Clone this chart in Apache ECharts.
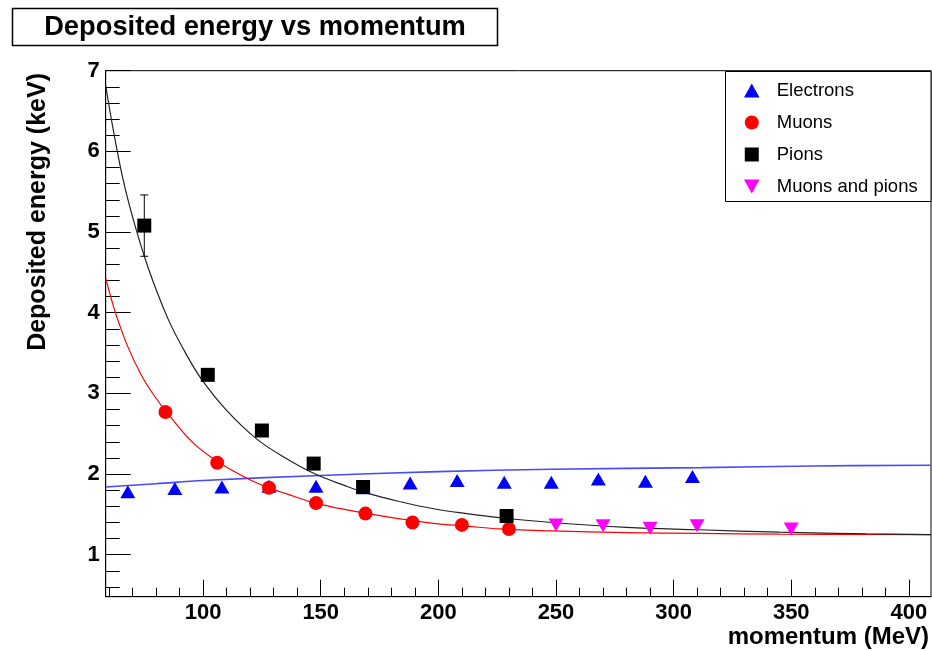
<!DOCTYPE html>
<html><head><meta charset="utf-8">
<script src="https://cdn.jsdelivr.net/npm/echarts@6/dist/echarts.min.js"></script>
<style>html,body{margin:0;padding:0;background:#fff}#c{width:932px;height:651px}</style>
</head><body><div id="c"></div>
<script>
// ---- data ----
const electronP = [68, 88, 108, 128, 148, 168, 188, 208, 228, 248, 268, 288, 308];
const electronE = [1.78, 1.82, 1.84, 1.85, 1.85, 1.83, 1.89, 1.92, 1.90, 1.90, 1.94, 1.91, 1.97];
const muonP = [84, 106, 128, 148, 169, 189, 210, 230];
const muonE = [2.77, 2.14, 1.83, 1.64, 1.51, 1.40, 1.37, 1.32];
const pionP = [75, 102, 125, 147, 168, 229];
const pionE = [5.08, 3.23, 2.54, 2.13, 1.84, 1.48];
const pionErr = [0.38, 0, 0, 0, 0, 0];
const mixP = [250, 270, 290, 310, 350];
const mixE = [1.37, 1.36, 1.33, 1.36, 1.32];

// fitted curves, points
const fitPionP = [58.6, 60.4, 63, 66, 70, 76.5, 85, 92, 99, 110, 123, 135, 147, 160, 170, 185, 198, 212, 226, 248, 280, 311, 345, 382, 409.4];
const fitPionE = [6.82, 6.50, 6.08, 5.65, 5.19, 4.57, 3.93, 3.53, 3.19, 2.79, 2.43, 2.20, 2.01, 1.86, 1.76, 1.65, 1.57, 1.51, 1.46, 1.40, 1.34, 1.31, 1.28, 1.26, 1.25];
const fitMuonP = [58.6, 61, 63.3, 68, 73.5, 79, 85, 96, 107, 120.5, 129, 135, 149, 170, 185, 198, 212, 226, 248, 280, 311, 345, 409.4];
const fitMuonE = [4.43, 4.17, 3.95, 3.58, 3.24, 2.98, 2.75, 2.38, 2.14, 1.92, 1.82, 1.76, 1.63, 1.51, 1.44, 1.39, 1.355, 1.32, 1.295, 1.275, 1.265, 1.255, 1.25];
const fitElecP = [58.6, 80, 100, 147, 200, 248, 312, 360, 409.4];
const fitElecE = [1.84, 1.88, 1.92, 1.98, 2.03, 2.06, 2.08, 2.10, 2.11];

const xTicks = [100, 150, 200, 250, 300, 350, 400];
const xMinor = [60, 70, 80, 90, 110, 120, 130, 140, 160, 170, 180, 190, 210, 220, 230, 240,
                260, 270, 280, 290, 310, 320, 330, 340, 360, 370, 380, 390];
const yTicks = [1, 2, 3, 4, 5, 6, 7];
const yMinor = [0.6, 0.8, 1.2, 1.4, 1.6, 1.8, 2.2, 2.4, 2.6, 2.8, 3.2, 3.4, 3.6, 3.8,
                4.2, 4.4, 4.6, 4.8, 5.2, 5.4, 5.6, 5.8, 6.2, 6.4, 6.6, 6.8];
const xRange = [58.6, 409.4];
const yRange = [0.48, 7];

const FONT = '"Liberation Sans", Arial, Helvetica, sans-serif';
const pair = (a, b) => a.map((v, i) => [v, b[i]]);

const SYM_UP = 'path://M5,0L10,9L0,9Z';
const SYM_DOWN = 'path://M0,0L10,0L5,9Z';
const SYM_SQ = 'path://M0,0L10,0L10,10L0,10Z';

const chart = echarts.init(document.getElementById('c'), null, {renderer: 'canvas'});

const tickLabel = {fontFamily: FONT, fontWeight: 'bold', fontSize: 22, color: '#000'};

chart.setOption({
  animation: false,
  backgroundColor: '#fff',
  grid: {left: 105.7, top: 70.7, right: 1, bottom: 54.3, show: true, borderColor: '#000', borderWidth: 1, containLabel: false},
  xAxis: [
    {type: 'value', min: xRange[0], max: xRange[1], position: 'bottom',
     axisLine: {show: true, onZero: false, lineStyle: {color: '#000', width: 1}},
     axisTick: {show: true, inside: true, length: 17, customValues: xTicks, lineStyle: {color: '#000', width: 1}},
     axisLabel: Object.assign({customValues: xTicks, margin: 5}, tickLabel),
     splitLine: {show: false}},
    {type: 'value', min: xRange[0], max: xRange[1], position: 'bottom',
     axisLine: {show: false},
     axisTick: {show: true, inside: true, length: 9, customValues: xMinor, lineStyle: {color: '#000', width: 1}},
     axisLabel: {show: false}, splitLine: {show: false}}
  ],
  yAxis: [
    {type: 'value', min: yRange[0], max: yRange[1], position: 'left',
     axisLine: {show: true, onZero: false, lineStyle: {color: '#000', width: 1}},
     axisTick: {show: true, inside: true, length: 25, customValues: yTicks, lineStyle: {color: '#000', width: 1}},
     axisLabel: Object.assign({customValues: yTicks, margin: 6}, tickLabel),
     splitLine: {show: false}},
    {type: 'value', min: yRange[0], max: yRange[1], position: 'left',
     axisLine: {show: false},
     axisTick: {show: true, inside: true, length: 14, customValues: yMinor, lineStyle: {color: '#000', width: 1}},
     axisLabel: {show: false}, splitLine: {show: false}}
  ],
  legend: {
    data: ['Electrons', 'Muons', 'Pions', 'Muons and pions'],
    orient: 'vertical', left: 744, top: 81, padding: 0,
    itemWidth: 40, itemHeight: 14, itemGap: 13, selectedMode: false, symbolKeepAspect: true,
    textStyle: {fontFamily: FONT, fontSize: 18.5, color: '#000', lineHeight: 14}
  },
  graphic: [
    {type: 'rect', z: 3, shape: {x: 12.5, y: 8.5, width: 485, height: 37}, style: {fill: '#fff', stroke: '#000', lineWidth: 1.5}},
    {type: 'text', z: 4, x: 255, y: 27, style: {text: 'Deposited energy vs momentum', font: 'bold 27.3px ' + FONT, fill: '#000', align: 'center', verticalAlign: 'middle', textAlign: 'center', textVerticalAlign: 'middle'}},
    {type: 'rect', z: 3, shape: {x: 725.5, y: 71.5, width: 205.5, height: 130}, style: {fill: '#fff', stroke: '#000', lineWidth: 1}},
    {type: 'text', z: 4, x: 929, y: 637, style: {text: 'momentum (MeV)', font: 'bold 24px ' + FONT, fill: '#000', align: 'right', verticalAlign: 'middle', textAlign: 'right', textVerticalAlign: 'middle'}},
    {type: 'text', z: 4, x: 38, y: 73, rotation: Math.PI / 2, style: {text: 'Deposited energy (keV)', font: 'bold 25px ' + FONT, fill: '#000', align: 'right', verticalAlign: 'middle', textAlign: 'right', textVerticalAlign: 'middle'}}
  ],
  series: [
    {name: 'fitElectrons', type: 'line', data: pair(fitElecP, fitElecE), smooth: 0.4, showSymbol: false, silent: true, z: 1,
     lineStyle: {color: '#4a4aff', width: 1.6}},
    {name: 'fitMuons', type: 'line', data: pair(fitMuonP, fitMuonE), smooth: 0.4, showSymbol: false, silent: true, z: 1,
     lineStyle: {color: '#ff0000', width: 1.2}},
    {name: 'fitPions', type: 'line', data: pair(fitPionP, fitPionE), smooth: 0.4, showSymbol: false, silent: true, z: 1,
     lineStyle: {color: '#222', width: 1.2}},
    {name: 'Electrons', type: 'scatter', data: pair(electronP, electronE), symbol: SYM_UP, symbolSize: [15, 13],
     itemStyle: {color: '#0000ff', opacity: 1}, z: 2},
    {name: 'Muons', type: 'scatter', data: pair(muonP, muonE), symbol: 'circle', symbolSize: 14,
     itemStyle: {color: '#ff0000', opacity: 1}, z: 2},
    {name: 'Pions', type: 'scatter', data: pair(pionP, pionE), symbol: SYM_SQ, symbolSize: 14,
     itemStyle: {color: '#000', opacity: 1}, z: 2},
    {name: 'pionErrors', type: 'custom', z: 2, silent: true,
     data: pionP.map((x, i) => [x, pionE[i], pionErr[i]]),
     encode: {x: 0, y: 1},
     renderItem: function (params, api) {
       const x = api.value(0), y = api.value(1), e = api.value(2);
       if (!e) return null;
       const t = api.coord([x, y + e]), b = api.coord([x, y - e]);
       const h = 4;
       const st = {stroke: '#000', lineWidth: 1};
       return {type: 'group', children: [
         {type: 'line', shape: {x1: t[0], y1: t[1], x2: b[0], y2: b[1]}, style: st},
         {type: 'line', shape: {x1: t[0] - h, y1: t[1], x2: t[0] + h, y2: t[1]}, style: st},
         {type: 'line', shape: {x1: b[0] - h, y1: b[1], x2: b[0] + h, y2: b[1]}, style: st}
       ]};
     }},
    {name: 'Muons and pions', type: 'scatter', data: pair(mixP, mixE), symbol: SYM_DOWN, symbolSize: [15, 13],
     itemStyle: {color: '#ff00ff', opacity: 1}, z: 2}
  ]
});
</script>
</body></html>
